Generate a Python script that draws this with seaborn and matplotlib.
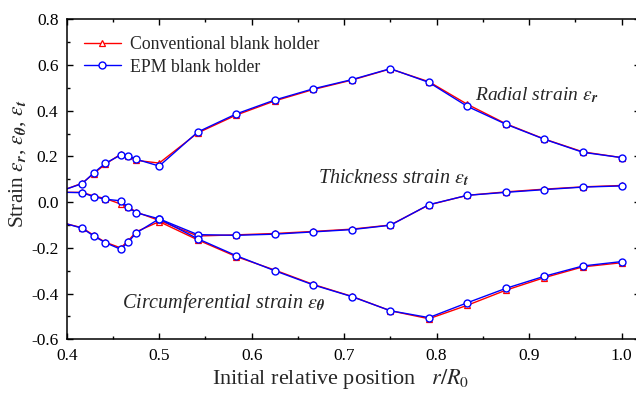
import numpy as np
import pandas as pd
import matplotlib
matplotlib.use("Agg")
import matplotlib.pyplot as plt
from matplotlib.ticker import MultipleLocator, FormatStrFormatter
import seaborn as sns

# initial relative position r/R0
r_pos = [0.4, 0.4167, 0.4292, 0.4417, 0.4583, 0.4667, 0.475, 0.5, 0.5417, 0.5833,
         0.625, 0.6667, 0.7083, 0.75, 0.7917, 0.8333, 0.875, 0.9167, 0.9583, 1.0]

# EPM blank holder
radial_epm = [0.058, 0.081, 0.128, 0.170, 0.206, 0.203, 0.188, 0.158, 0.307, 0.386,
              0.447, 0.496, 0.536, 0.584, 0.524, 0.419, 0.341, 0.275, 0.218, 0.195]
thick_epm = [0.043, 0.0415, 0.024, 0.013, 0.006, -0.023, -0.046, -0.073, -0.142, -0.145,
             -0.140, -0.130, -0.120, -0.101, -0.011, 0.030, 0.043, 0.055, 0.066, 0.071]
circ_epm = [-0.095, -0.114, -0.148, -0.177, -0.206, -0.174, -0.135, -0.073, -0.160, -0.234,
            -0.300, -0.362, -0.413, -0.475, -0.505, -0.440, -0.377, -0.324, -0.279, -0.260]

# conventional blank holder
radial_conv = [0.058, 0.083, 0.125, 0.166, 0.210, 0.200, 0.183, 0.171, 0.303, 0.381,
               0.443, 0.493, 0.534, 0.583, 0.527, 0.428, 0.343, 0.276, 0.220, 0.195]
thick_conv = [0.043, 0.043, 0.027, 0.016, -0.008, -0.020, -0.043, -0.080, -0.148, -0.143,
              -0.137, -0.128, -0.118, -0.100, -0.012, 0.030, 0.045, 0.057, 0.067, 0.073]
circ_conv = [-0.095, -0.112, -0.145, -0.175, -0.200, -0.168, -0.130, -0.085, -0.165, -0.238,
             -0.297, -0.360, -0.412, -0.475, -0.510, -0.451, -0.385, -0.330, -0.283, -0.265]

sns.set_style("ticks")
plt.rcParams["font.family"] = ["Liberation Serif", "DejaVu Serif"]
plt.rcParams["mathtext.fontset"] = "stix"
plt.rcParams["axes.unicode_minus"] = False

fig = plt.figure(figsize=(6.36, 3.94), dpi=100)
ax = fig.add_axes([0.1049, 0.1388, 0.9014, 0.8122])

skip_first = slice(1, None)  # first point sits on the left spine, no marker there

# conventional (red triangles) drawn first, EPM (blue circles) on top
for i, ys in enumerate([radial_conv, thick_conv, circ_conv]):
    sns.lineplot(x=r_pos, y=ys, ax=ax, color="red", lw=1.0, marker="^",
                 markersize=5, markerfacecolor="white", markeredgecolor="red",
                 markeredgewidth=0.9, markevery=skip_first,
                 label="Conventional blank holder" if i == 0 else None)

for i, ys in enumerate([radial_epm, thick_epm, circ_epm]):
    sns.lineplot(x=r_pos, y=ys, ax=ax, color="blue", lw=1.0, marker="o",
                 markersize=5, markerfacecolor="white", markeredgecolor="blue",
                 markeredgewidth=1.0, markevery=skip_first,
                 label="EPM blank holder" if i == 0 else None)

ax.set_xlim(0.4, 1.02)
ax.set_ylim(-0.6, 0.8)
ax.xaxis.set_major_locator(MultipleLocator(0.1))
ax.xaxis.set_minor_locator(MultipleLocator(0.05))
ax.yaxis.set_major_locator(MultipleLocator(0.2))
ax.yaxis.set_minor_locator(MultipleLocator(0.1))
ax.xaxis.set_major_formatter(FormatStrFormatter("%.1f"))
ax.yaxis.set_major_formatter(FormatStrFormatter("%.1f"))
ax.tick_params(which="both", direction="in", top=True, right=True, width=1.0,
               labelsize=12.5, colors="black")
ax.tick_params(which="major", length=4.5, pad=6)
ax.tick_params(which="minor", length=2.5)
for sp in ax.spines.values():
    sp.set_linewidth(1.1)
    sp.set_color("black")

ax.set_xlabel("Initial relative position   $r/R_0$", fontsize=16)
ax.set_ylabel(r"Strain $\varepsilon_{\boldsymbol{r}}$, $\varepsilon_{\boldsymbol{\theta}}$, $\varepsilon_{\boldsymbol{t}}$",
              fontsize=15.5)
ax.xaxis.set_label_coords(0.477, -0.087)
ax.yaxis.set_label_coords(-0.0675, 0.55)

ax.text(0.842, 0.469, r"Radial strain $\varepsilon_{\boldsymbol{r}}$", fontsize=14,
        style="italic", ha="left", va="center")
ax.text(0.672, 0.106, r"Thickness strain $\varepsilon_{\boldsymbol{t}}$", fontsize=14.5,
        style="italic", ha="left", va="center")
ax.text(0.4595, -0.441, r"Circumferential strain $\varepsilon_{\boldsymbol{\theta}}$",
        fontsize=14.5, style="italic", ha="left", va="center")

ax.legend(loc="upper left", bbox_to_anchor=(0.0, 1.0), frameon=False, fontsize=12.8,
          handlelength=2.1, handletextpad=0.5, labelspacing=0.3, borderpad=0.45,
          borderaxespad=0.5)

fig.savefig("out.png", dpi=100)
